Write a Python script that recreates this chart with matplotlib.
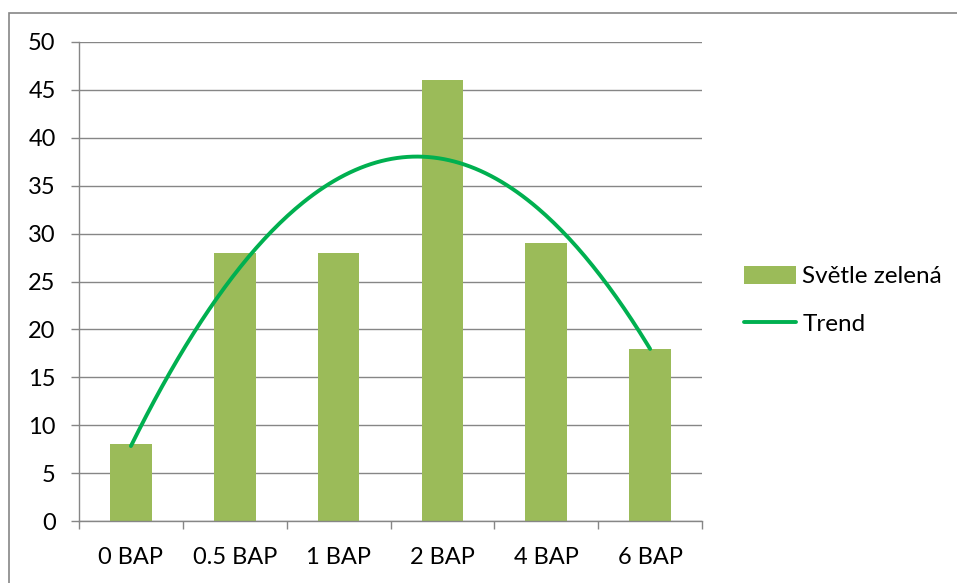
import numpy as np
import matplotlib.pyplot as plt
from matplotlib.patches import Rectangle

plt.rcParams['font.family'] = ['Lato', 'DejaVu Sans']

categories = ['0 BAP', '0.5 BAP', '1 BAP', '2 BAP', '4 BAP', '6 BAP']
values = [8, 28, 28, 46, 29, 18]
series_name = 'Světle zelená'
trend_name = 'Trend'

bar_color = '#9BBB59'
trend_color = '#00B050'
grid_color = '#868686'

W, H = 957, 583
fig = plt.figure(figsize=(W / 100, H / 100), dpi=100)
ax = fig.add_axes([79 / W, 1 - 521 / H, (702 - 79) / W, (521 - 42) / H])

x = np.arange(len(values))
bars = ax.bar(x, values, width=0.4, color=bar_color, zorder=2, label=series_name)

# second order polynomial trend through the bars
coef = np.polyfit(x, values, 2)
xs = np.linspace(x[0], x[-1], 200)
trend, = ax.plot(xs, np.polyval(coef, xs), color=trend_color, lw=2.8,
                 solid_capstyle='round', zorder=3, label=trend_name)

ax.set_xlim(-0.5, len(values) - 0.5)
ax.set_ylim(0, 50)
ax.set_yticks(range(0, 51, 5))
ax.yaxis.grid(True, color=grid_color, lw=1)
ax.set_axisbelow(True)

ax.set_xticks(x)
ax.set_xticklabels(categories)
ax.set_xticks(np.arange(-0.5, len(values), 1), minor=True)
ax.tick_params(axis='x', which='major', length=0, pad=19, labelsize=17)
ax.tick_params(axis='x', which='minor', length=5.8, width=1, color=grid_color, direction='out')
ax.tick_params(axis='y', length=5.8, width=1, color=grid_color, pad=11, labelsize=17)

for s in ['top', 'right']:
    ax.spines[s].set_visible(False)
for s in ['left', 'bottom']:
    ax.spines[s].set_color(grid_color)
    ax.spines[s].set_linewidth(1)

leg = fig.legend([bars, trend], [series_name, trend_name], loc='upper left',
                 bbox_to_anchor=(744 / W, 1 - 266 / H),
                 frameon=False, fontsize=17.5, handlelength=2.15, handleheight=0.75,
                 handletextpad=0.25, labelspacing=1.08, borderaxespad=0, borderpad=0)

# outer chart frame
fig.patches.append(Rectangle((9 / W, -0.1), 1.2, 1 - 13 / H + 0.1,
                             transform=fig.transFigure, fill=False,
                             edgecolor=grid_color, lw=1.2))

fig.savefig('out.png', dpi=100)
